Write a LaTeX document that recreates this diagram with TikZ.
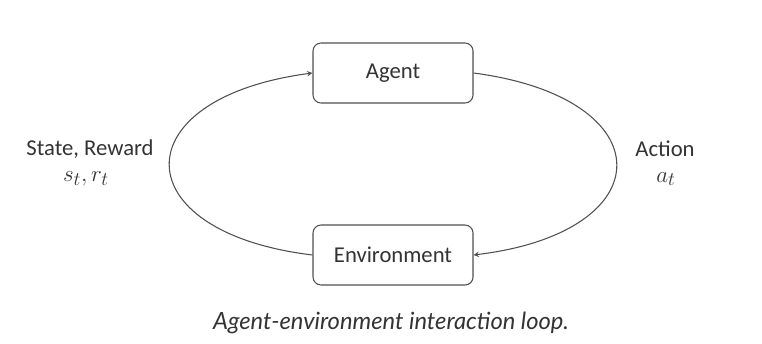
\documentclass[tikz,border=0pt]{standalone}
\usepackage{fontspec}
\setmainfont{Carlito}
\newfontfamily\captionfont{Lato}
\usepackage{tikz}
\usetikzlibrary{arrows}
\definecolor{linegray}{HTML}{505050}
\definecolor{textgray}{HTML}{333333}
\tikzstyle{block} = [rectangle, rounded corners=6pt,
minimum width=120pt,
minimum height=45pt,
text centered,
draw=linegray,
line width=0.8pt,
fill=white]
\tikzstyle{label} = [text=textgray, font=\fontsize{17}{20}\selectfont, align=center]
\tikzstyle{arrow} = [line width=0.8pt, draw=linegray, ->, >=stealth]

\begin{document}
\begin{tikzpicture}[x=0.75pt, y=-0.75pt]
\useasboundingbox (0,0) rectangle (762,343);

\node (agent) [block, label] at (393,73) {Agent};
\node (env) [block, label] at (393,255) {Environment};

\node (state) [label] at (90,149) {State, Reward};
\node (st) [label, font=\fontsize{19}{22}\selectfont] at (86,179) {$s_t, r_t$};
\node (action) [label] at (665,149) {Action};
\node (at) [label, font=\fontsize{19}{22}\selectfont] at (666,179) {$a_t$};

\draw [arrow] (env.west) .. controls (122,232) and (122,98) .. (agent.west);
\draw [arrow] (agent.east) .. controls (664,98) and (664,232) .. (env.east);

\node (cap) [text=textgray, font=\captionfont\itshape\fontsize{17.8}{21}\selectfont] at (391,323) {Agent-environment interaction loop.};

\end{tikzpicture}
\end{document}
